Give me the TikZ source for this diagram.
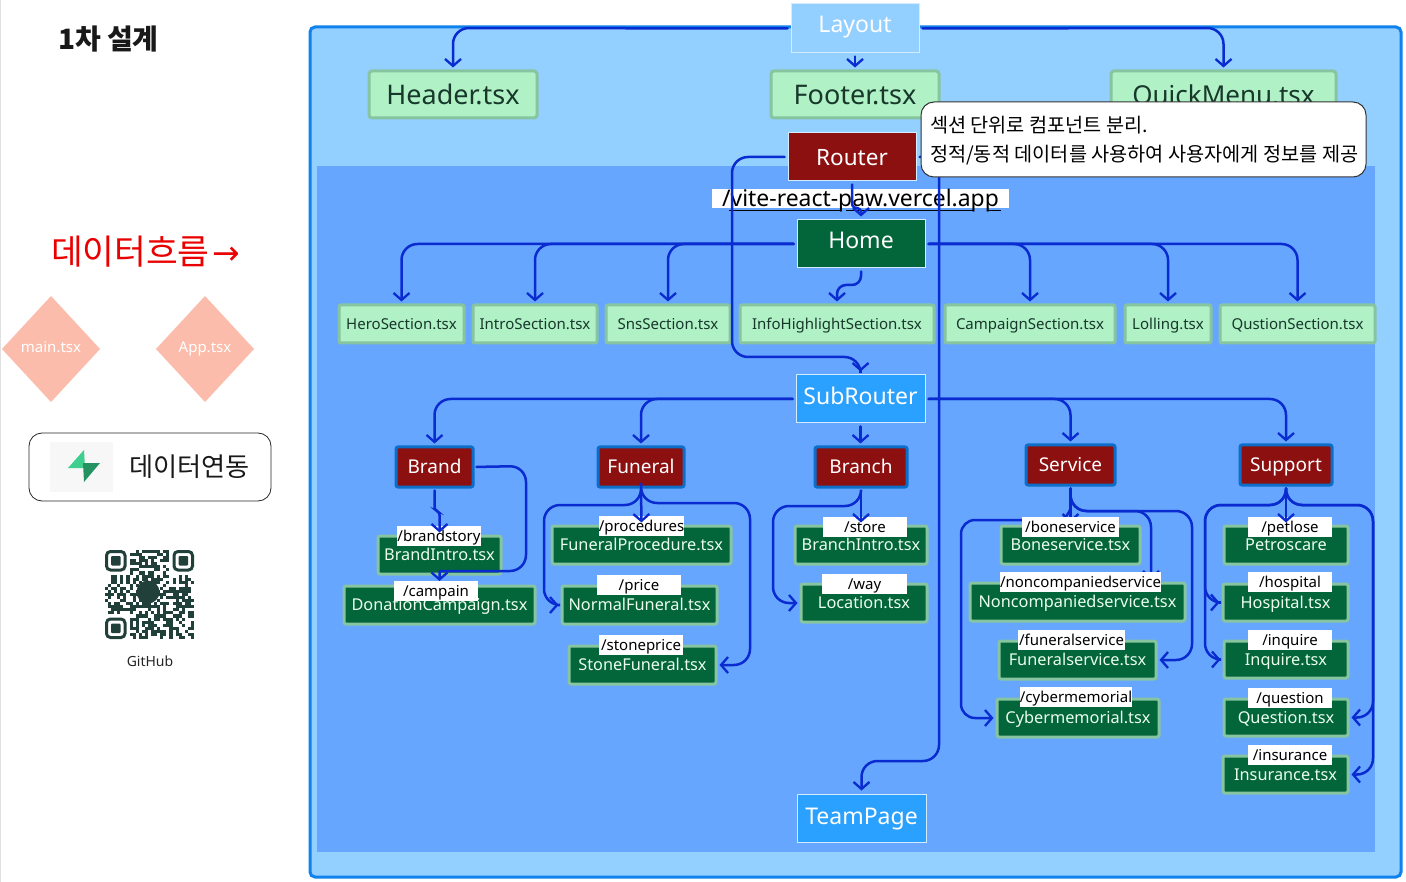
\documentclass[tikz,border=0pt]{standalone}
\usepackage{fontspec}
\setmainfont{Noto Sans}
\newfontfamily\krfont{Noto Sans CJK KR}
\newfontfamily\arrowfont{DejaVu Sans}
\usetikzlibrary{arrows.meta,shapes.geometric,calc}
\definecolor{outerblue}{HTML}{93CFFF}
\definecolor{outerline}{HTML}{0F82EC}
\definecolor{innerblue}{HTML}{66A6FF}
\definecolor{connblue}{HTML}{0A2BD0}
\definecolor{routerred}{HTML}{8C1010}
\definecolor{darkgreen}{HTML}{03653A}
\definecolor{lightgreen}{HTML}{B0F1C6}
\definecolor{greenline}{HTML}{86C5A0}
\definecolor{greentext}{HTML}{17382A}
\definecolor{salmon}{HTML}{FBBCAB}
\definecolor{subblue}{HTML}{2BA1FF}
\definecolor{qrgreen}{HTML}{22403A}
\definecolor{boltlight}{HTML}{3ECF8E}
\definecolor{boltdark}{HTML}{249361}
\tikzset{
 x=1pt,y=-1pt,
 every node/.style={inner sep=0pt,outer sep=0pt,align=center},
 conn/.style={draw=connblue,line width=2.5pt,rounded corners=16pt,line cap=round,shorten >=3.5pt,shorten <=3.5pt,-{Straight Barb[length=7pt,width=16pt,line width=2.3pt]}},
 boxtext/.style={text height=#1,text depth=0pt},
 toplevel/.style={boxtext=19.4pt,fill=lightgreen,draw=greenline,line width=3pt,rounded corners=3pt,text=greentext,font=\fontsize{27}{30}\selectfont},
 section/.style={boxtext=10.8pt,fill=lightgreen,draw=greenline,line width=3pt,rounded corners=2pt,text=greentext,font=\fontsize{15}{17}\selectfont},
 layoutbox/.style={boxtext=16.5pt,fill=outerblue,draw=white!60!outerblue,line width=1pt,text=white,font=\fontsize{23}{26}\selectfont},
 routerbox/.style={boxtext=16.2pt,fill=routerred,draw=white!60!outerblue,line width=1pt,text=white,font=\fontsize{22.5}{26}\selectfont},
 homebox/.style={boxtext=16.5pt,fill=darkgreen,draw=white!60!outerblue,line width=1pt,text=white,font=\fontsize{23}{26}\selectfont},
 subbox/.style={boxtext=16.5pt,fill=subblue,draw=white!60!outerblue,line width=1pt,text=white,font=\fontsize{23}{26}\selectfont},
 catbox/.style={boxtext=13.7pt,fill=routerred,draw=outerline!85!black,line width=3pt,rounded corners=2pt,text=white,font=\fontsize{19}{22}\selectfont},
 pagebox/.style={boxtext=11.7pt,fill=darkgreen,draw=greenline,line width=3pt,rounded corners=2pt,text=white!92!green,font=\fontsize{16.3}{20}\selectfont},
 pathlabel/.style={boxtext=10.8pt,fill=white,text=black,font=\fontsize{15}{18}\selectfont},
 diamondbox/.style={boxtext=10.8pt,diamond,aspect=0.92,fill=salmon,text=white,font=\fontsize{15}{18}\selectfont},
}
\newcommand\bx[7]{\node[#6,minimum width={(#4-#2)*1pt},minimum height={(#5-#3)*1pt}] (#1) at ({(#2+#4)/2},{(#3+#5)/2}) {#7};}
\begin{document}
\begin{tikzpicture}
\useasboundingbox (0,0) rectangle (1406,882);
\fill[white] (0,0) rectangle (1406,882);
\fill[black!12] (0,0) rectangle (1.2,882);
% panels
\draw[fill=outerblue,draw=outerline,line width=3pt,rounded corners=5pt] (310,27) rectangle (1401,877);
\fill[innerblue] (317,166) rectangle (1375,852);
% left column
\node[anchor=west,font=\krfont\bfseries\fontsize{28}{32}\selectfont,text=black!90] (title) at (58,39) {1차 설계};
\node[anchor=west,font=\krfont\fontsize{34.5}{38}\selectfont,text=red!92!black] (flow) at (51,252) {데이터흐름\kern3pt{\arrowfont\fontsize{33}{38}\selectfont →}};
\bx{mainbox}{2}{296}{100}{402}{diamondbox}{\raisebox{2pt}{main.tsx}}
\bx{appbox}{156}{296}{254}{402}{diamondbox}{\raisebox{2pt}{App.tsx}}
\node[draw=black!85,line width=0.8pt,rounded corners=13pt,minimum width=242pt,minimum height=68pt,fill=white] (sync) at (150,467) {};
\fill[black!3] (50,442) rectangle (113,492);
\fill[boltlight] (84,450) -- (68,468) -- (85,468) -- cycle;
\fill[boltdark] (84,482) -- (100,463) -- (83,463) -- cycle;
\node[anchor=west,font=\krfont\fontsize{26.2}{31}\selectfont,text=black!90] (synctext) at (129,467) {데이터연동};
% QR code
\begin{scope}[qrgreen]
\pgfmathsetseed{7}
\foreach \r in {0,...,28}{\foreach \c in {0,...,28}{
  \pgfmathsetmacro{\v}{rnd}
  \pgfmathparse{(\v<0.52)&&!((\r<8)&&(\c<8))&&!((\r<8)&&(\c>20))&&!((\r>20)&&(\c<8))?1:0}
  \ifnum\pgfmathresult=1
    \fill ({105+\c*3.07},{550+\r*3.07}) rectangle +(3.07,3.07);
  \fi
}}
\foreach \px/\py in {105/550,172.5/550,105/617.5}{
  \draw[line width=3pt,rounded corners=4pt] ({\px+1.5},{\py+1.5}) rectangle +(18.5,18.5);
  \fill[rounded corners=1pt] ({\px+6},{\py+6}) rectangle +(9.5,9.5);
}
\fill (148,592) circle (11.5pt);
\end{scope}
\node[font=\fontsize{14}{17}\selectfont,text=black!85] (github) at (150,661) {GitHub};
% top row
\bx{layout}{791}{4}{919}{53}{layoutbox}{\raisebox{4.5pt}{Layout}}
\bx{header}{369}{71}{537}{118}{toplevel}{Header.tsx}
\bx{footer}{771}{71}{939}{118}{toplevel}{Footer.tsx}
\bx{quick}{1111}{71}{1336}{118}{toplevel,font=\fontsize{26}{30}\selectfont}{QuickMenu.tsx}
\bx{router}{788}{133}{916}{181}{routerbox}{Router}
\bx{home}{797}{220}{925}{268}{homebox}{\raisebox{4pt}{Home}}
% sections
\bx{hero}{339}{305}{464}{343}{section}{HeroSection.tsx}
\bx{intro}{473}{305}{597}{343}{section}{IntroSection.tsx}
\bx{sns}{606}{305}{730}{343}{section}{SnsSection.tsx}
\bx{info}{740}{305}{934}{343}{section}{InfoHighlightSection.tsx}
\bx{camp}{945}{305}{1115}{343}{section}{CampaignSection.tsx}
\bx{lolling}{1125}{305}{1211}{343}{section}{Lolling.tsx}
\bx{qust}{1220}{305}{1375}{343}{section}{QustionSection.tsx}
\bx{subrouter}{796}{375}{925}{423}{subbox}{\raisebox{3pt}{SubRouter}}
\bx{team}{797}{794}{926}{842}{subbox}{\raisebox{2pt}{TeamPage}}
% categories
\bx{brand}{396}{447}{473}{487}{catbox}{Brand}
\bx{funeral}{598}{447}{684}{487}{catbox}{Funeral}
\bx{branch}{815}{447}{907}{487}{catbox}{Branch}
\bx{service}{1026}{445}{1115}{485}{catbox}{Service}
\bx{support}{1240}{445}{1332}{485}{catbox}{Support}
% pages
\bx{brandintro}{378}{536}{501}{574}{pagebox}{BrandIntro.tsx}
\bx{donation}{344}{586}{535}{624}{pagebox}{DonationCampaign.tsx}
\bx{procedure}{552}{526}{731}{564}{pagebox}{FuneralProcedure.tsx}
\bx{normal}{562}{586}{717}{624}{pagebox}{NormalFuneral.tsx}
\bx{stone}{569}{646}{716}{684}{pagebox}{StoneFuneral.tsx}
\bx{branchintro}{795}{526}{927}{564}{pagebox}{BranchIntro.tsx}
\bx{location}{801}{584}{927}{622}{pagebox}{Location.tsx}
\bx{bone}{1001}{526}{1140}{564}{pagebox}{Boneservice.tsx}
\bx{noncomp}{970}{583}{1185}{621}{pagebox}{Noncompaniedservice.tsx}
\bx{funsvc}{999}{641}{1156}{679}{pagebox}{Funeralservice.tsx}
\bx{cyber}{997}{699}{1159}{737}{pagebox}{Cybermemorial.tsx}
\bx{petro}{1224}{526}{1348}{564}{pagebox}{Petroscare}
\bx{hospital}{1223}{584}{1348}{621}{pagebox}{Hospital.tsx}
\bx{inquire}{1224}{641}{1348}{678}{pagebox}{Inquire.tsx}
\bx{question}{1224}{699}{1348}{736}{pagebox}{Question.tsx}
\bx{insurance}{1223}{756}{1348}{793}{pagebox}{Insurance.tsx}
% arrows that pass behind the path labels
\draw[conn] (service.south) -- (bone.north);
\draw[conn] (service.south) -- (1070.5,511) -- (1151,511) -- (1151,0 |- noncomp.north);
\draw[conn] (service.south) -- (1070.5,511) -- (1192,511) -- (1192,660) -- (funsvc.east);
\draw[conn,rounded corners=14pt] (service.south) -- (1070.5,520) -- (961,520) -- (961,718) -- (cyber.west);
\draw[conn,shorten >=5pt] (brand.east) -- (526,466) -- (526,571) [rounded corners=1pt] -- (439.5,571) -- (donation.north);
% path labels
\bx{lbrandstory}{397}{526}{481}{546}{pathlabel}{/brandstory}
\bx{lcampain}{394}{581}{478}{601}{pathlabel}{/campain}
\bx{lprocedures}{599}{516}{684}{536}{pathlabel}{/procedures}
\bx{lprice}{597}{575}{681}{595}{pathlabel}{/price}
\bx{lstoneprice}{599}{635}{683}{655}{pathlabel}{/stoneprice}
\bx{lstore}{823}{517}{907}{537}{pathlabel}{/store}
\bx{lway}{822}{574}{907}{594}{pathlabel}{/way}
\bx{lbone}{1022}{517}{1119}{537}{pathlabel}{/boneservice}
\bx{lnoncomp}{1000}{572}{1161}{592}{pathlabel}{/noncompaniedservice}
\bx{lfunsvc}{1018}{630}{1125}{650}{pathlabel}{/funeralservice}
\bx{lcyber}{1020}{687}{1132}{707}{pathlabel}{/cybermemorial}
\bx{lpetlose}{1248}{517}{1332}{537}{pathlabel}{/petlose}
\bx{lhospital}{1248}{572}{1332}{592}{pathlabel}{/hospital}
\bx{linquire}{1248}{630}{1332}{650}{pathlabel}{/inquire}
\bx{lquestion}{1248}{688}{1332}{708}{pathlabel}{/question}
\bx{linsurance}{1248}{745}{1332}{765}{pathlabel}{/insurance}
\bx{lvite}{712}{189}{1009}{208}{pathlabel,boxtext=16.5pt,font=\fontsize{22.9}{26}\selectfont}{/vite-react-paw.vercel.app}
\draw[black,line width=1pt] (729,211) -- (840,211) (846,211) -- (974,211) (987,211) -- (1001,211);
% connectors
\draw[conn] (layout.west) -- (453,28) -- (header.north);
\draw[conn] (layout.south) -- (footer.north -| layout.south);
\draw[conn] (layout.east) -- (1223.5,28) -- (quick.north);
\draw[conn,rounded corners=3pt] (router.south) -- (852,207) -- (861,209) -- (home.north);
\draw[conn] (router.west) -- (732,157) -- (732,357) -- (860.5,357) -- (subrouter.north);
\draw[conn] (router.east) -- (939,157) -- (939,761) -- (861.5,761) -- (team.north);
\draw[conn] (home.west) -- (401.5,244) -- (hero.north);
\draw[conn] (home.west) -- (535,244) -- (intro.north);
\draw[conn] (home.west) -- (668,244) -- (sns.north);
\draw[conn,rounded corners=9pt] (home.south) -- (861,285) -- (837,285) -- (info.north);
\draw[conn] (home.east) -- (1030,244) -- (camp.north);
\draw[conn] (home.east) -- (1168,244) -- (lolling.north);
\draw[conn] (home.east) -- (1297.5,244) -- (qust.north);
\draw[conn] (subrouter.west) -- (434.5,399) -- (brand.north);
\draw[conn] (subrouter.west) -- (641,399) -- (funeral.north);
\draw[conn] (subrouter.south) -- (branch.north -| subrouter.south);
\draw[conn] (subrouter.east) -- (1070.5,399) -- (service.north);
\draw[conn] (subrouter.east) -- (1286,399) -- (support.north);
\draw[conn,rounded corners=3pt] (brand.south) -- (434.5,510) -- (439.5,512) -- (brandintro.north);
\draw[conn] (funeral.south) -- (procedure.north);
\draw[conn] (funeral.south) -- (641,505) -- (544,505) -- (544,605) -- (normal.west);
\draw[conn] (funeral.south) -- (641,503) -- (750,503) -- (750,665) -- (stone.east);
\draw[conn] (branch.south) -- (branchintro.north);
\draw[conn] (branch.south) -- (861,506) -- (773,506) -- (773,603) -- (location.west);
\draw[conn] (support.south) -- (petro.north);
\draw[conn] (support.south) -- (1286,505) -- (1205,505) -- (1205,602.5) -- (hospital.west);
\draw[conn] (support.south) -- (1286,505) -- (1205,505) -- (1205,659.5) -- (inquire.west);
\draw[conn] (support.south) -- (1286,505) -- (1373,505) -- (1373,717.5) -- (question.east);
\draw[conn] (support.south) -- (1286,505) -- (1373,505) -- (1373,774.5) -- (insurance.east);
% callout
\node[draw=black!80,line width=1pt,fill=white,rounded corners=13pt,minimum width=445pt,minimum height=75pt] (callout) at (1143.5,139.5) {};
\node[anchor=west,font=\krfont\fontsize{19.7}{24}\selectfont] (callone) at (930,125.5) {섹션 단위로 컴포넌트 분리.};
\node[anchor=west,font=\krfont\fontsize{19.7}{24}\selectfont] (calltwo) at (930,155.5) {정적/동적 데이터를 사용하여 사용자에게 정보를 제공};
\end{tikzpicture}
\end{document}
